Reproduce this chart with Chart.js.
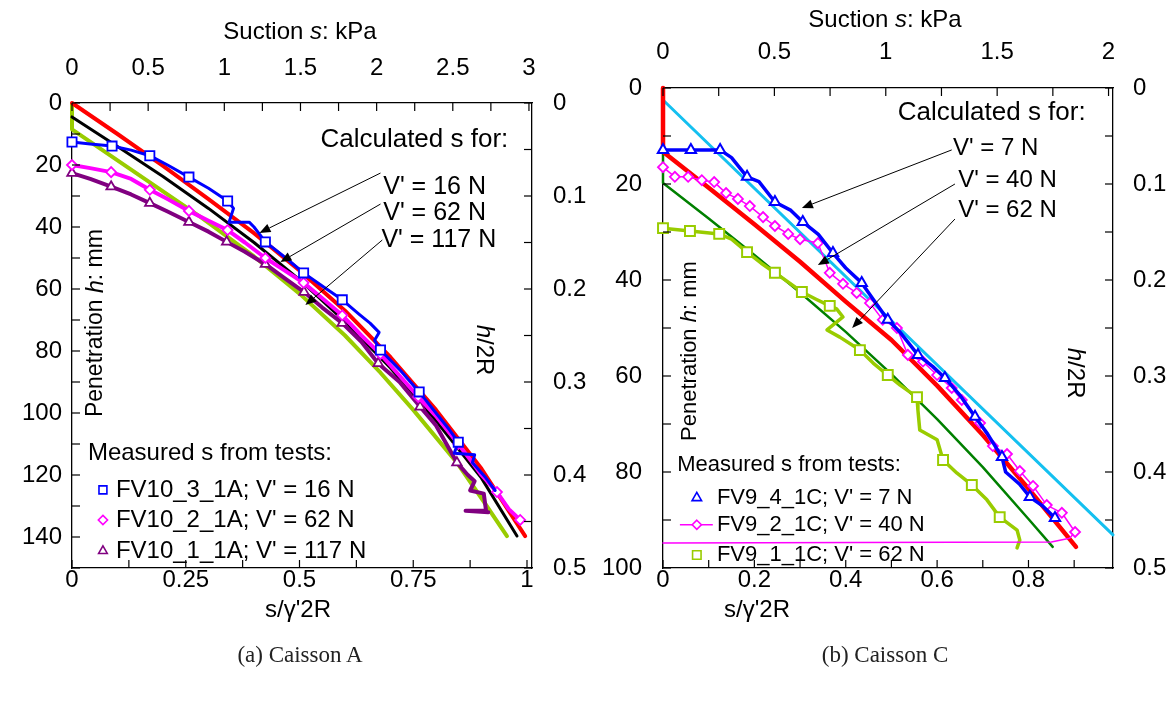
<!DOCTYPE html>
<html>
<head>
<meta charset="utf-8">
<script src="https://cdn.jsdelivr.net/npm/chart.js@4.4.1/dist/chart.umd.min.js"></script>
<style>
  html, body { margin: 0; padding: 0; background: #fff; }
  body { width: 1175px; height: 704px; position: relative; overflow: hidden; }
  .panel { position: absolute; top: 0; height: 704px; }
  #wrapA { left: 0; width: 595px; }
  #wrapC { left: 595px; width: 580px; }
  .caption { position: absolute; top: 643px; width: 240px; text-align: center; line-height: 1;
             font-family: 'Liberation Serif', 'DejaVu Serif', serif; font-size: 23px; color: #222; }
</style>
</head>
<body>
<div class="panel" id="wrapA"><canvas id="chartA"></canvas></div>
<div class="panel" id="wrapC"><canvas id="chartC"></canvas></div>
<div class="caption" style="left:180px">(a) Caisson A</div>
<div class="caption" style="left:765px">(b) Caisson C</div>
<script>
const FONT = "'Liberation Sans', Arial, sans-serif";
Chart.defaults.font.family = FONT;

// ---------- Caisson A  (x = s/γ'2R, h = penetration in mm) ----------
// calculated suction
const aCalc16X = [0, 0.1, 0.2, 0.3, 0.4, 0.5, 0.6, 0.7, 0.8, 0.9, 0.996];
const aCalc16H = [0, 10, 20.3, 31, 42, 54, 67, 82, 99, 118, 139.7];
const aCalc62X = [0, 0.1, 0.2, 0.3, 0.4, 0.5, 0.6, 0.7, 0.8, 0.9, 0.978];
const aCalc62H = [4.5, 14, 23.7, 34, 45, 57, 70.5, 85.5, 102.5, 121, 139.7];
const aCalc117X = [0, 0, 0.1, 0.2, 0.283, 0.4, 0.5, 0.6, 0.678, 0.75, 0.846, 0.9, 0.956];
const aCalc117H = [0.5, 8.5, 18.5, 28.5, 36.8, 49.5, 61.5, 75, 87, 99, 116, 127.5, 139.7];

// measured suction
const aTest3X = [0, 0.04, 0.088, 0.13, 0.171, 0.21, 0.257, 0.3, 0.342, 0.355, 0.345, 0.36, 0.39, 0.4, 0.425, 0.47, 0.509, 0.55, 0.594, 0.63, 0.655, 0.675, 0.665, 0.678, 0.72, 0.763, 0.8, 0.83, 0.849, 0.84, 0.885, 0.88, 0.91, 0.93];
const aTest3H = [12.6, 13.2, 13.9, 15.2, 17, 20, 23.9, 27.5, 31.6, 34, 38.5, 38.5, 38.5, 40, 44.8, 50, 54.8, 59, 63.5, 68, 71, 74, 76.5, 79.7, 86, 93.2, 100, 105.5, 109.4, 113, 113.5, 116, 121, 125];
const aTest3MarkX = [0, 0.088, 0.171, 0.257, 0.342, 0.425, 0.509, 0.594, 0.678, 0.763, 0.849];
const aTest3MarkH = [12.6, 13.9, 17, 23.9, 31.6, 44.8, 54.8, 63.5, 79.7, 93.2, 109.4];

const aTest2X = [0, 0.04, 0.086, 0.13, 0.171, 0.21, 0.257, 0.3, 0.342, 0.38, 0.425, 0.467, 0.509, 0.55, 0.594, 0.636, 0.678, 0.72, 0.761, 0.8, 0.849, 0.88, 0.9, 0.934, 0.96, 0.985];
const aTest2H = [20, 21, 22.3, 24.5, 28, 31, 34.8, 38, 41, 45, 50, 54, 58, 63, 68.5, 75, 81, 88, 94.8, 101, 110, 116, 120, 125.5, 131, 134.5];
const aTest2MarkX = [0, 0.086, 0.171, 0.257, 0.342, 0.425, 0.509, 0.594, 0.678, 0.761, 0.849, 0.934, 0.985];
const aTest2MarkH = [20, 22.3, 28, 34.8, 41, 50, 58, 68.5, 81, 94.8, 110, 125.5, 134.5];

const aTest1X = [0, 0.04, 0.086, 0.13, 0.171, 0.21, 0.257, 0.3, 0.34, 0.38, 0.425, 0.467, 0.51, 0.55, 0.594, 0.636, 0.673, 0.72, 0.765, 0.8, 0.846, 0.87, 0.885, 0.875, 0.905, 0.91, 0.865, 0.915];
const aTest1H = [22.6, 24.5, 27, 29.5, 32.3, 35, 38.4, 41.5, 44.8, 48, 52, 56.5, 61, 66, 71, 77, 84, 90, 98, 104, 116, 120, 122, 125, 126, 131.5, 131.5, 132];
const aTest1MarkX = [0, 0.086, 0.171, 0.257, 0.34, 0.425, 0.51, 0.594, 0.673, 0.765, 0.846];
const aTest1MarkH = [22.6, 27, 32.3, 38.4, 44.8, 52, 61, 71, 84, 98, 116];

// tick labels
const aBottomLabels = [0, 0.25, 0.5, 0.75, 1];
const aTopLabels = [0, 0.5, 1, 1.5, 2, 2.5, 3];
const aLeftLabels = [0, 20, 40, 60, 80, 100, 120, 140];
const aRightLabels = [0, 0.1, 0.2, 0.3, 0.4, 0.5];

// ---------- Caisson C ----------
const cCalc7X = [0, 0, 0.985];
const cCalc7H = [0, 2.5, 93.1];
const cCalc40X = [0, 0, 0.1, 0.2, 0.3, 0.4, 0.5, 0.6, 0.7, 0.8, 0.904];
const cCalc40H = [0, 13.3, 20.8, 28.4, 36.2, 44.5, 52.5, 62, 72.3, 83.5, 95.6];
const cCalc62X = [0, 0, 0.1, 0.2, 0.3, 0.4, 0.5, 0.6, 0.7, 0.8, 0.853];
const cCalc62H = [13.3, 19.8, 27.2, 34.8, 42.6, 50.8, 59.6, 69, 79, 89.8, 95.6];

const cTest4X = [0, 0.061, 0.125, 0.15, 0.184, 0.21, 0.245, 0.28, 0.306, 0.34, 0.372, 0.4, 0.435, 0.46, 0.492, 0.52, 0.558, 0.59, 0.617, 0.65, 0.683, 0.71, 0.742, 0.75, 0.78, 0.803, 0.83, 0.858];
const cTest4H = [12.9, 12.9, 12.9, 14.5, 18.5, 19.5, 23.75, 25.5, 27.9, 30.5, 34.4, 37.5, 40.6, 44, 48.3, 51, 55.6, 58, 60.4, 64, 68.5, 72, 76.9, 80, 82.5, 85.2, 87, 89.6];
const cTest4MarkX = [0, 0.061, 0.125, 0.184, 0.245, 0.306, 0.372, 0.435, 0.492, 0.558, 0.617, 0.683, 0.742, 0.803, 0.858];
const cTest4MarkH = [12.9, 12.9, 12.9, 18.5, 23.75, 27.9, 34.4, 40.6, 48.3, 55.6, 60.4, 68.5, 76.9, 85.2, 89.6];

const cTest2X = [0, 0.026, 0.055, 0.085, 0.112, 0.138, 0.164, 0.19, 0.219, 0.245, 0.274, 0.3, 0.339, 0.365, 0.394, 0.424, 0.453, 0.481, 0.512, 0.536, 0.569, 0.6, 0.632, 0.654, 0.694, 0.722, 0.753, 0.781, 0.81, 0.84, 0.873, 0.902, 0.89, 0.85, 0];
const cTest2H = [16.5, 18.5, 18.5, 19.2, 19.6, 21.9, 23.1, 24.6, 26.9, 28.75, 30.4, 31.5, 32.3, 38.5, 40.8, 42.7, 44.8, 48.3, 50, 55.6, 57, 59.8, 62.5, 65, 69.8, 74.6, 76.25, 79.8, 82.9, 86.9, 88.5, 92.5, 93.8, 94.6, 94.8];
const cTest2MarkX = cTest2X.slice(0, 32);
const cTest2MarkH = cTest2H.slice(0, 32);

const cTest1X = [0, 0.059, 0.123, 0.15, 0.184, 0.215, 0.245, 0.275, 0.304, 0.335, 0.365, 0.38, 0.394, 0.359, 0.387, 0.431, 0.46, 0.492, 0.519, 0.556, 0.558, 0.562, 0.6, 0.613, 0.643, 0.676, 0.709, 0.737, 0.775, 0.781, 0.775];
const cTest1H = [29.2, 29.8, 30.4, 31.5, 34.2, 36.5, 38.5, 40.5, 42.5, 44, 45.4, 46, 47.7, 50.4, 51.9, 54.6, 57.3, 59.8, 61.9, 64.4, 67.1, 71.25, 73.3, 77.5, 80.2, 82.7, 85.8, 89.4, 92.1, 94.2, 95.8];
const cTest1MarkX = [0, 0.059, 0.123, 0.184, 0.245, 0.304, 0.365, 0.431, 0.492, 0.556, 0.613, 0.676, 0.737];
const cTest1MarkH = [29.2, 29.8, 30.4, 34.2, 38.5, 42.5, 45.4, 54.6, 59.8, 64.4, 77.5, 82.7, 89.4];

const cBottomLabels = [0, 0.2, 0.4, 0.6, 0.8];
const cTopLabels = [0, 0.5, 1, 1.5, 2];
const cLeftLabels = [0, 20, 40, 60, 80, 100];
const cRightLabels = [0, 0.1, 0.2, 0.3, 0.4, 0.5];

// ---------- helpers ----------
const pts = (xs, hs) => xs.map((x, i) => ({ x: x, y: hs[i] }));

function lineSet(xs, hs, color, width) {
    return {
        data: pts(xs, hs), showLine: true, borderColor: color, borderWidth: width,
        pointRadius: 0, pointHoverRadius: 0, fill: false, tension: 0, clip: false,
        borderJoinStyle: 'round', borderCapStyle: 'round'
    };
}

function markSet(xs, hs, color, style, radius, width) {
    return {
        data: pts(xs, hs), showLine: false, pointStyle: style, pointRadius: radius,
        pointHoverRadius: radius, borderColor: color, backgroundColor: '#fff',
        pointBorderWidth: width, clip: false
    };
}

function makeAxis(pos, min, max, step, labels, reverse, pad, box) {
    return {
        type: 'linear', position: pos, min: min, max: max, reverse: reverse,
        grid: { display: false, drawTicks: false },
        border: { display: true, color: '#000', width: 1.3 },
        ticks: {
            stepSize: step, autoSkip: false, includeBounds: false, maxRotation: 0, minRotation: 0,
            padding: pad, color: '#000', font: { family: FONT, size: 24, lineHeight: 1 },
            callback: v => labels.some(l => Math.abs(l - v) < 1e-6) ? String(Math.round(v * 1000) / 1000) : ''
        },
        afterFit: sc => { if (sc.isHorizontal()) sc.height = box; else sc.width = box; }
    };
}

function drawMarker(ctx, style, x, y, r, color, lw) {
    ctx.save();
    ctx.strokeStyle = color; ctx.fillStyle = '#fff'; ctx.lineWidth = lw;
    ctx.beginPath();
    if (style === 'rect') {
        const s = r * Math.SQRT1_2;
        ctx.rect(x - s, y - s, 2 * s, 2 * s);
    } else if (style === 'rectRot') {
        ctx.moveTo(x, y - r); ctx.lineTo(x + r, y); ctx.lineTo(x, y + r); ctx.lineTo(x - r, y); ctx.closePath();
    } else {
        for (let k = 0; k < 3; k++) {
            const a = k * 2 * Math.PI / 3;
            const px = x + Math.sin(a) * r, py = y - Math.cos(a) * r;
            if (k) ctx.lineTo(px, py); else ctx.moveTo(px, py);
        }
        ctx.closePath();
    }
    ctx.fill(); ctx.stroke();
    ctx.restore();
}

// text made of plain / italic pieces
function richText(ctx, parts, x, y, size, angle, align) {
    ctx.save();
    ctx.translate(x, y);
    ctx.rotate(angle || 0);
    ctx.textBaseline = 'middle';
    ctx.textAlign = 'left';
    ctx.fillStyle = '#000';
    const fonts = parts.map(p => (p[1] ? 'italic ' : '') + size + 'px ' + FONT);
    const widths = parts.map((p, i) => { ctx.font = fonts[i]; return ctx.measureText(p[0]).width; });
    const total = widths.reduce((a, b) => a + b, 0);
    let cx = align === 'left' ? 0 : -total / 2;
    parts.forEach((p, i) => { ctx.font = fonts[i]; ctx.fillText(p[0], cx, 0); cx += widths[i]; });
    ctx.restore();
}

function drawArrow(ctx, x1, y1, x2, y2) {
    const a = Math.atan2(y2 - y1, x2 - x1), L = 11, W = 4.5;
    const bx = x2 - L * Math.cos(a), by = y2 - L * Math.sin(a);
    ctx.save();
    ctx.strokeStyle = '#000'; ctx.fillStyle = '#000'; ctx.lineWidth = 1;
    ctx.beginPath(); ctx.moveTo(x1, y1); ctx.lineTo(bx, by); ctx.stroke();
    ctx.beginPath();
    ctx.moveTo(x2, y2);
    ctx.lineTo(bx + W * Math.sin(a), by - W * Math.cos(a));
    ctx.lineTo(bx - W * Math.sin(a), by + W * Math.cos(a));
    ctx.closePath(); ctx.fill();
    ctx.restore();
}

// inward tick marks on all four frame sides
const inwardTicks = {
    id: 'inwardTicks',
    afterDraw(chart) {
        const ctx = chart.ctx, a = chart.chartArea, L = 8;
        ctx.save();
        ctx.strokeStyle = '#000'; ctx.lineWidth = 1.2;
        Object.values(chart.scales).forEach(sc => {
            sc.ticks.forEach(t => {
                const p = sc.getPixelForValue(t.value);
                ctx.beginPath();
                if (sc.position === 'left') { ctx.moveTo(a.left, p); ctx.lineTo(a.left + L, p); }
                else if (sc.position === 'right') { ctx.moveTo(a.right, p); ctx.lineTo(a.right - L, p); }
                else if (sc.position === 'top') { ctx.moveTo(p, a.top); ctx.lineTo(p, a.top + L); }
                else { ctx.moveTo(p, a.bottom); ctx.lineTo(p, a.bottom - L); }
                ctx.stroke();
            });
        });
        ctx.restore();
    }
};

// texts, arrows and legend; in-plot positions given in data units
function notesPlugin(cfg) {
    return {
        id: 'notes',
        afterDraw(chart) {
            const ctx = chart.ctx, sx = chart.scales.x, sy = chart.scales.y;
            const px = v => sx.getPixelForValue(v), py = v => sy.getPixelForValue(v);
            cfg.titles.forEach(t => richText(ctx, t.parts, t.cx, t.cy, t.size, 0));
            cfg.texts.forEach(t => richText(ctx, t.parts, px(t.x), py(t.h), t.size, t.angle, t.align));
            cfg.arrows.forEach(r => drawArrow(ctx, px(r[0]), py(r[1]), px(r[2]), py(r[3])));
            const lg = cfg.legend;
            richText(ctx, [['Measured s from tests:', 0]], px(lg.x), py(lg.h), lg.size, 0, 'left');
            lg.items.forEach(it => {
                if (it.line) {
                    ctx.save(); ctx.strokeStyle = it.color; ctx.lineWidth = it.line;
                    ctx.beginPath(); ctx.moveTo(px(lg.lineFrom), py(it.h)); ctx.lineTo(px(lg.lineTo), py(it.h)); ctx.stroke();
                    ctx.restore();
                }
                drawMarker(ctx, it.style, px(lg.markX), py(it.h), it.r, it.color, 1.6);
                richText(ctx, [[it.text, 0]], px(lg.textX), py(it.h), lg.size, 0, 'left');
            });
        }
    };
}

const baseOptions = (scales) => ({
    responsive: true, maintainAspectRatio: false, animation: false, devicePixelRatio: 1,
    events: [],
    layout: { padding: 0 },
    plugins: { legend: { display: false }, tooltip: { enabled: false } },
    scales: scales
});

// ---------- Caisson A chart ----------
new Chart(document.getElementById('chartA'), {
    type: 'scatter',
    data: {
        datasets: [
            markSet(aTest3MarkX, aTest3MarkH, '#0000ff', 'rect', 6.5, 1.8),
            lineSet(aTest3X, aTest3H, '#0000ff', 3),
            markSet(aTest2MarkX, aTest2MarkH, '#ff00ff', 'rectRot', 5, 1.8),
            lineSet(aTest2X, aTest2H, '#ff00ff', 4),
            markSet(aTest1MarkX, aTest1MarkH, '#800080', 'triangle', 5.5, 1.8),
            lineSet(aTest1X, aTest1H, '#800080', 4),
            lineSet(aCalc16X, aCalc16H, '#ff0000', 4),
            lineSet(aCalc62X, aCalc62H, '#000000', 3),
            lineSet(aCalc117X, aCalc117H, '#99cc00', 4)
        ]
    },
    options: baseOptions({
        x: makeAxis('bottom', 0, 1.011, 0.125, aBottomLabels, false, 0, 136),
        x2: makeAxis('top', 0, 3.02, 0.25, aTopLabels, false, 23, 103),
        y: makeAxis('left', 0, 150, 10, aLeftLabels, true, 10, 72),
        y2: makeAxis('right', 0, 0.5, 0.05, aRightLabels, true, 21, 63)
    }),
    plugins: [inwardTicks, notesPlugin({
        titles: [
            { parts: [['Suction ', 0], ['s', 1], [': kPa', 0]], cx: 300, cy: 32, size: 24 },
            { parts: [["s/\u03b3'2R", 0]], cx: 298, cy: 610, size: 24 }
        ],
        texts: [
            { parts: [['Calculated s for:', 0]], x: 0.546, h: 11.9, size: 26, align: 'left' },
            { parts: [["V' = 16 N", 0]], x: 0.684, h: 27.1, size: 25, align: 'left' },
            { parts: [["V' = 62 N", 0]], x: 0.684, h: 35.5, size: 25, align: 'left' },
            { parts: [["V' = 117 N", 0]], x: 0.68, h: 44.2, size: 25, align: 'left' },
            { parts: [['Penetration ', 0], ['h', 1], [': mm', 0]], x: 0.053, h: 71, size: 23, angle: -Math.PI / 2 },
            { parts: [['h', 1], ['/2R', 0]], x: 0.904, h: 79.7, size: 24, angle: Math.PI / 2 }
        ],
        arrows: [
            [0.678, 22.6, 0.412, 41.9],
            [0.678, 32.6, 0.458, 51.3],
            [0.682, 44.2, 0.513, 65.2]
        ],
        legend: {
            x: 0.035, h: 112.9, size: 24, markX: 0.068, textX: 0.0965,
            items: [
                { text: "FV10_3_1A; V' = 16 N", h: 124.8, style: 'rect', r: 5.6, color: '#0000ff' },
                { text: "FV10_2_1A; V' = 62 N", h: 134.5, style: 'rectRot', r: 4.6, color: '#ff00ff' },
                { text: "FV10_1_1A; V' = 117 N", h: 144.5, style: 'triangle', r: 5, color: '#800080' }
            ]
        }
    })]
});

// ---------- Caisson C chart ----------
new Chart(document.getElementById('chartC'), {
    type: 'scatter',
    data: {
        datasets: [
            markSet(cTest4MarkX, cTest4MarkH, '#0000ff', 'triangle', 6, 2),
            lineSet(cTest4X, cTest4H, '#0000ff', 3.5),
            markSet(cTest2MarkX, cTest2MarkH, '#ff00ff', 'rectRot', 5, 1.8),
            lineSet(cTest2X, cTest2H, '#ff00ff', 1.5),
            markSet(cTest1MarkX, cTest1MarkH, '#99cc00', 'rect', 7, 2),
            lineSet(cTest1X, cTest1H, '#99cc00', 3.5),
            lineSet(cCalc40X, cCalc40H, '#ff0000', 4.5),
            lineSet(cCalc62X, cCalc62H, '#008000', 2.5),
            lineSet(cCalc7X, cCalc7H, '#14c0f0', 3)
        ]
    },
    options: baseOptions({
        x: makeAxis('bottom', 0, 0.985, 0.1, cBottomLabels, false, 0, 136),
        x2: makeAxis('top', 0, 2.02, 0.25, cTopLabels, false, 24, 88),
        y: makeAxis('left', 0, 100, 10, cLeftLabels, true, 21, 68),
        y2: makeAxis('right', 0, 0.5, 0.05, cRightLabels, true, 20, 62)
    }),
    plugins: [inwardTicks, notesPlugin({
        titles: [
            { parts: [['Suction ', 0], ['s', 1], [': kPa', 0]], cx: 290, cy: 20, size: 24 },
            { parts: [["s/\u03b3'2R", 0]], cx: 162, cy: 610, size: 24 }
        ],
        texts: [
            { parts: [['Calculated s for:', 0]], x: 0.514, h: 5.2, size: 26, align: 'left' },
            { parts: [["V' = 7 N", 0]], x: 0.635, h: 12.5, size: 24, align: 'left' },
            { parts: [["V' = 40 N", 0]], x: 0.646, h: 19.2, size: 24, align: 'left' },
            { parts: [["V' = 62 N", 0]], x: 0.646, h: 25.4, size: 24, align: 'left' },
            { parts: [['Penetration ', 0], ['h', 1], [': mm', 0]], x: 0.059, h: 54.8, size: 22, angle: -Math.PI / 2 },
            { parts: [['h', 1], ['/2R', 0]], x: 0.902, h: 59.4, size: 24, angle: Math.PI / 2 }
        ],
        arrows: [
            [0.632, 12.9, 0.304, 25],
            [0.639, 20, 0.339, 36.9],
            [0.639, 27.3, 0.414, 50]
        ],
        legend: {
            x: 0.031, h: 78.5, size: 22, markX: 0.074, textX: 0.118, lineFrom: 0.037, lineTo: 0.109,
            items: [
                { text: "FV9_4_1C; V' = 7 N", h: 85.4, style: 'triangle', r: 5.5, color: '#0000ff' },
                { text: "FV9_2_1C; V' = 40 N", h: 91, style: 'rectRot', r: 4.6, color: '#ff00ff', line: 1.5 },
                { text: "FV9_1_1C; V' = 62 N", h: 97.3, style: 'rect', r: 6, color: '#99cc00' }
            ]
        }
    })]
});
</script>
</body>
</html>
